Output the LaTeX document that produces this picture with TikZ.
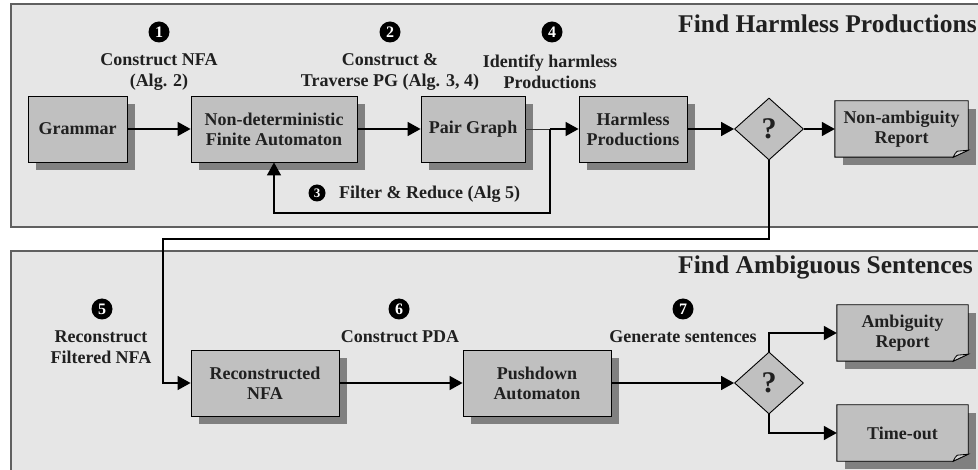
\documentclass[tikz,border=0pt]{standalone}
\usepackage{fontspec}
\setmainfont{Liberation Serif}
\usetikzlibrary{arrows.meta,shapes.geometric,calc}
\definecolor{panelfill}{HTML}{E6E6E6}
\definecolor{panelline}{HTML}{606060}
\definecolor{boxfill}{HTML}{C0C0C0}
\definecolor{shadowc}{HTML}{808080}
\definecolor{txt}{HTML}{202020}
\pgfdeclarelayer{panellayer}
\pgfdeclarelayer{shadowlayer}
\pgfdeclarelayer{shapelayer}
\pgfsetlayers{panellayer,shadowlayer,shapelayer,main}
\tikzset{
  box/.style={rectangle,draw=black,line width=0.9pt,fill=boxfill,minimum height=66pt,inner sep=0pt,align=center,text=txt,font=\fontsize{18}{20}\selectfont\bfseries},
  docnode/.style={rectangle,draw=none,minimum height=56pt,inner sep=0pt,align=center,text=txt,font=\fontsize{18}{20}\selectfont\bfseries},
  decision/.style={diamond,draw=black,line width=0.9pt,fill=boxfill,minimum width=69pt,minimum height=62pt,inner sep=0pt,text=txt,font=\fontsize{30}{30}\selectfont\bfseries},
  lbl/.style={align=center,inner sep=0pt,text=txt,font=\fontsize{18}{20.5}\selectfont\bfseries},
  num/.style={circle,fill=black,text=white,inner sep=0pt,minimum size=21pt,font=\fontsize{16}{16}\selectfont\bfseries},
  smallnum/.style={circle,fill=black,text=white,inner sep=0pt,minimum size=17pt,font=\fontsize{13}{13}\selectfont\bfseries},
  arr/.style={line width=1.6pt,-{Triangle[length=13pt,width=14pt]}},
  thinline/.style={line width=0.8pt,draw=black!80},
  titletext/.style={anchor=base west,inner sep=0pt,text=txt,font=\fontsize{25.5}{28}\selectfont\bfseries},
  shadowfill/.style={fill=shadowc},
  docline/.style={draw=black,line width=0.9pt,fill=boxfill},
}
\begin{document}
\begin{tikzpicture}[x=1pt,y=-1pt]
\useasboundingbox (0,0) rectangle (978,470);

% panels
\begin{pgfonlayer}{panellayer}
  \fill[panelfill] (11,4) rectangle (978,227);
  \draw[panelline,line width=1.5pt] (978,4) -- (11,4) -- (11,227) -- (978,227);
  \fill[panelfill] (11,251) rectangle (978,470);
  \draw[panelline,line width=1.5pt] (978,251) -- (11,251) -- (11,470);
\end{pgfonlayer}

% titles
\node[titletext] (t1) at (678,33) {Find Harmless Productions};
\node[titletext] (t2) at (678,274) {Find Ambiguous Sentences};

% top row
\node[box,minimum width=99pt]  (gram) at (77.5,129) {Grammar};
\node[box,minimum width=166pt] (nfa)  at (274,129)  {Non-deterministic\\Finite Automaton};
\node[box,minimum width=104pt] (pg)   at (473,129)  {Pair Graph};
\node[box,minimum width=108pt] (hp)   at (633,129)  {Harmless\\Productions};
\node[decision] (d1) at (769,129) {?};
\node[docnode,minimum width=133pt] (nar) at (901.5,129) {Non-ambiguity\\Report};

% bottom row
\node[box,minimum width=148pt] (rnfa) at (265,383) {Reconstructed\\NFA};
\node[box,minimum width=148pt] (pda)  at (537,383) {Pushdown\\Automaton};
\node[decision] (d2) at (769,383) {?};
\node[docnode,minimum width=131pt] (ar) at (902.5,333) {Ambiguity\\Report};
\node[docnode,minimum width=131pt] (to) at (902.5,433) {Time-out};

% shadows
\begin{pgfonlayer}{shadowlayer}
  \foreach \n in {gram,nfa,pg,hp,rnfa,pda,nar,ar,to}{
    \fill[shadowfill] ([shift={(8,8)}]\n.south west) rectangle ([shift={(8,8)}]\n.north east);
  }
\end{pgfonlayer}

% document shapes
\begin{pgfonlayer}{shapelayer}
  \foreach \n in {nar,ar,to}{
    \draw[docline] (\n.north west) -- (\n.north east) -- ($(\n.south east)+(0,-7)$)
      -- ($(\n.south east)+(-15,0)$) -- (\n.south west) -- cycle;
    \draw[line width=0.8pt,fill=boxfill!70!white] ($(\n.south east)+(-15,0)$)
      .. controls ($(\n.south east)+(-13,-4)$) .. ($(\n.south east)+(-11,-6)$)
      -- ($(\n.south east)+(0,-7)$) -- cycle;
  }
\end{pgfonlayer}

% step labels
\node[num] (n1) at (159,32) {1};
\node[lbl] (l1) at (159,72) {Construct NFA\\(Alg. 2)};
\node[num] (n2) at (390,32) {2};
\node[lbl] (l2) at (390,72) {Construct \&\\Traverse PG (Alg. 3, 4)};
\node[num] (n4) at (552,32) {4};
\node[lbl] (l4) at (550,72) {Identify harmless\\Productions};
\node[smallnum] (n3) at (317,193) {3};
\node[lbl,anchor=west] (l3) at (339,194) {Filter \& Reduce (Alg 5)};

\node[num] (n5) at (102,309) {5};
\node[lbl] (l5) at (101,347) {Reconstruct\\Filtered NFA};
\node[num] (n6) at (399,309) {6};
\node[lbl] (l6) at (400,337) {Construct PDA};
\node[num] (n7) at (683,309) {7};
\node[lbl] (l7) at (683,337) {Generate sentences};

% connectors
\coordinate (j) at (550,129);
\coordinate (c5) at (163,239);
\draw[arr] (gram) -- (nfa);
\draw[arr] (nfa) -- (pg);
\draw[thinline] (pg.east) -- (j);
\draw[arr] (j) -- (hp.west);
\draw[arr] (j) -- ++(0,84) -| (nfa.south);
\draw[arr] (hp) -- (d1.west);
\draw[arr] (d1.east) -- (nar.west);
\draw[arr] (d1.south) |- (c5) |- (rnfa.west);
\draw[arr] (rnfa) -- (pda);
\draw[arr] (pda) -- (d2.west);
\draw[arr] (d2.north) |- (ar.west);
\draw[arr] (d2.south) |- (to.west);
\end{tikzpicture}
\end{document}
